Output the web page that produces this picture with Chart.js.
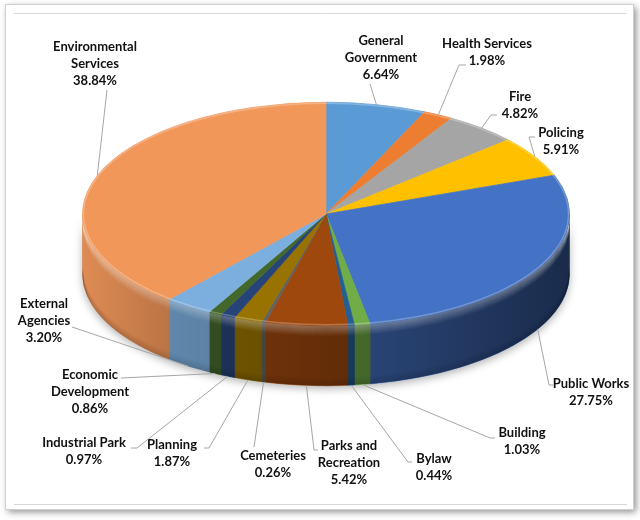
<!DOCTYPE html>
<html>
<head>
<meta charset="utf-8">
<script src="https://cdn.jsdelivr.net/npm/chart.js@4.4.1/dist/chart.umd.min.js"></script>
<style>
  html, body { margin: 0; padding: 0; background: #fff; }
  #wrap { width: 640px; height: 520px; }
</style>
</head>
<body>
<div id="wrap"><canvas id="chart" width="640" height="520"></canvas></div>
<script>
const categories = ['General Government', 'Health Services', 'Fire', 'Policing', 'Public Works', 'Building', 'Bylaw',
  'Parks and Recreation', 'Cemeteries', 'Planning', 'Industrial Park', 'Economic Development', 'External Agencies',
  'Environmental Services'];
const shares = [6.64, 1.98, 4.82, 5.91, 27.75, 1.03, 0.44, 5.42, 0.26, 1.87, 0.97, 0.86, 3.20, 38.84];
const sliceColors = ['#5B9BD5', '#ED7D31', '#A5A5A5', '#FFC000', '#4472C4', '#70AD47', '#255E91',
  '#9E480E', '#636363', '#997300', '#264478', '#43682B', '#7CAFDD', '#F1975A'];

// where each label sits: text centre x, first line y, leader start next to the text (and optional bend)
const labelLayout = [
  { x: 381, y: 41, from: [370, 84] },
  { x: 487, y: 44, from: [466, 65], bend: [459, 65] },
  { x: 520, y: 97, from: [497, 115], bend: [491, 115] },
  { x: 561, y: 133, from: [535, 137], bend: [529, 137] },
  { x: 591, y: 384, from: [553, 385], bend: [549, 385] },
  { x: 522, y: 433, from: [495, 438], bend: [490, 438] },
  { x: 434, y: 459, from: [412, 462], bend: [408, 462] },
  { x: 349, y: 446, from: [318, 450], bend: [314, 450] },
  { x: 273, y: 456, from: [254, 447] },
  { x: 172, y: 445, from: [204, 448], bend: [209, 448] },
  { x: 84, y: 443, from: [131, 448], bend: [137, 448] },
  { x: 90, y: 375, from: [121, 378] },
  { x: 44, y: 304, from: [72, 327] },
  { x: 95, y: 47, from: [107, 90] }
];

const TILT = 112 / 244;   // vertical squash of the pie top
const TOP_CY = 214;       // screen y of the squashed pie centre
const DEPTH = 60;         // thickness of the pie wall
const LINE_H = 17;

const pieGeom = (chart) => {
  const arcs = chart.getDatasetMeta(0).data.map(a =>
    a.getProps(['startAngle', 'endAngle', 'outerRadius', 'x', 'y'], true));
  const r = arcs[0].outerRadius;
  return { arcs, cx: arcs[0].x, cy: arcs[0].y, rx: r, ry: r * TILT };
};

const wallPath = (ctx, cx, cy, rx, ry, a1, a2) => {
  ctx.beginPath();
  ctx.ellipse(cx, cy, rx, ry, 0, a1, a2);
  ctx.ellipse(cx, cy + DEPTH, rx, ry, 0, a2, a1, true);
  ctx.closePath();
};

const wrapText = (ctx, text, maxW) => {
  const lines = [];
  let cur = '';
  text.split(' ').forEach(w => {
    const test = cur ? cur + ' ' + w : w;
    if (cur && ctx.measureText(test).width > maxW) { lines.push(cur); cur = w; }
    else cur = test;
  });
  lines.push(cur);
  return lines;
};

const framePlugin = {
  id: 'frame',
  beforeDraw(chart) {
    const ctx = chart.ctx;
    ctx.save();
    ctx.fillStyle = '#fff';
    ctx.fillRect(0, 0, 640, 520);
    ctx.shadowColor = 'rgba(0,0,0,0.45)';
    ctx.shadowBlur = 7;
    ctx.shadowOffsetX = 3;
    ctx.shadowOffsetY = 3;
    ctx.fillRect(5, 4, 628, 505);
    ctx.shadowColor = 'transparent';
    ctx.strokeStyle = '#cfcfcf';
    ctx.lineWidth = 1;
    ctx.strokeRect(5.5, 4.5, 628, 505);
    ctx.strokeStyle = '#d9d9d9';
    ctx.beginPath();
    ctx.moveTo(14, 13.5); ctx.lineTo(627, 13.5);
    ctx.moveTo(14, 504.5); ctx.lineTo(627, 504.5);
    ctx.stroke();
    ctx.restore();
  }
};

const pie3dPlugin = {
  id: 'pie3d',
  beforeDatasetsDraw(chart) {
    const ctx = chart.ctx;
    const { arcs, cx, cy, rx, ry } = pieGeom(chart);

    // soft shadow under the wall
    ctx.save();
    ctx.shadowColor = 'rgba(0,0,0,0.3)';
    ctx.shadowBlur = 8;
    ctx.shadowOffsetY = 3;
    ctx.fillStyle = '#777';
    wallPath(ctx, cx, TOP_CY, rx, ry, 0, Math.PI);
    ctx.fill();
    ctx.restore();

    // front wall of every slice, taken from the arc angles chart.js computed
    arcs.forEach((a, i) => {
      const a1 = Math.max(a.startAngle, 0);
      const a2 = Math.min(a.endAngle, Math.PI);
      if (a2 <= a1) return;
      ctx.fillStyle = sliceColors[i];
      wallPath(ctx, cx, TOP_CY, rx, ry, a1, a2);
      ctx.fill();
      ctx.strokeStyle = sliceColors[i];
      ctx.lineWidth = 0.6;
      ctx.stroke();
    });

    // shading of the wall: darker toward the right, light bevel under the top edge
    ctx.save();
    wallPath(ctx, cx, TOP_CY, rx, ry, 0, Math.PI);
    ctx.clip();
    const g = ctx.createLinearGradient(cx - rx, 0, cx + rx, 0);
    g.addColorStop(0, 'rgba(0,0,0,0.08)');
    g.addColorStop(0.17, 'rgba(0,0,0,0.22)');
    g.addColorStop(0.45, 'rgba(0,0,0,0.34)');
    g.addColorStop(0.62, 'rgba(0,0,0,0.42)');
    g.addColorStop(1, 'rgba(0,0,0,0.62)');
    ctx.fillStyle = g;
    ctx.fillRect(cx - rx - 2, TOP_CY - 2, 2 * rx + 4, ry + DEPTH + 4);
    for (let d = 0; d <= 11; d++) {
      ctx.strokeStyle = 'rgba(255,255,255,' + (0.28 * (1 - d / 11)).toFixed(3) + ')';
      ctx.lineWidth = 1.2;
      ctx.beginPath();
      ctx.ellipse(cx, TOP_CY + d, rx, ry, 0, 0, Math.PI);
      ctx.stroke();
    }
    for (let d = DEPTH - 8; d <= DEPTH; d++) {
      ctx.strokeStyle = 'rgba(0,0,0,' + (0.12 * (d - DEPTH + 8) / 8).toFixed(3) + ')';
      ctx.lineWidth = 1.2;
      ctx.beginPath();
      ctx.ellipse(cx, TOP_CY + d, rx, ry, 0, 0, Math.PI);
      ctx.stroke();
    }
    ctx.restore();

    // squash the flat pie chart.js draws into the tilted top face
    ctx.save();
    ctx.translate(0, TOP_CY);
    ctx.scale(1, TILT);
    ctx.translate(0, -cy);
  },
  afterDatasetsDraw(chart) {
    const ctx = chart.ctx;
    ctx.restore();
    const { arcs, cx, rx, ry } = pieGeom(chart);

    // faint rim on the top face
    ctx.save();
    ctx.strokeStyle = 'rgba(255,255,255,0.25)';
    ctx.lineWidth = 1.5;
    ctx.beginPath();
    ctx.ellipse(cx, TOP_CY, rx - 1, ry - 1, 0, 0, 2 * Math.PI);
    ctx.stroke();
    ctx.restore();

    // data labels with leader lines
    ctx.save();
    ctx.font = 'bold 13px Lato';
    ctx.textAlign = 'center';
    ctx.textBaseline = 'middle';
    arcs.forEach((a, i) => {
      const L = labelLayout[i];
      const mid = (a.startAngle + a.endAngle) / 2;
      let px = cx + rx * Math.cos(mid);
      let py = TOP_CY + ry * Math.sin(mid);
      if (Math.sin(mid) > 0) py += DEPTH;
      ctx.strokeStyle = '#a6a6a6';
      ctx.lineWidth = 1;
      ctx.beginPath();
      ctx.moveTo(L.from[0], L.from[1]);
      if (L.bend) ctx.lineTo(L.bend[0], L.bend[1]);
      ctx.lineTo(px, py);
      ctx.stroke();

      const lines = wrapText(ctx, categories[i], 100);
      lines.push(shares[i].toFixed(2) + '%');
      ctx.fillStyle = '#111';
      lines.forEach((t, k) => ctx.fillText(t, L.x, L.y + k * LINE_H));
    });
    ctx.restore();
  }
};

new Chart(document.getElementById('chart'), {
  type: 'pie',
  data: {
    labels: categories,
    datasets: [{
      data: shares,
      backgroundColor: sliceColors,
      borderColor: sliceColors,
      borderWidth: 1
    }]
  },
  options: {
    responsive: false,
    animation: false,
    events: [],
    layout: { padding: { left: 82, right: 70, top: 16, bottom: 16 } },
    plugins: {
      legend: { display: false },
      tooltip: { enabled: false }
    }
  },
  plugins: [framePlugin, pie3dPlugin]
});
</script>
</body>
</html>
